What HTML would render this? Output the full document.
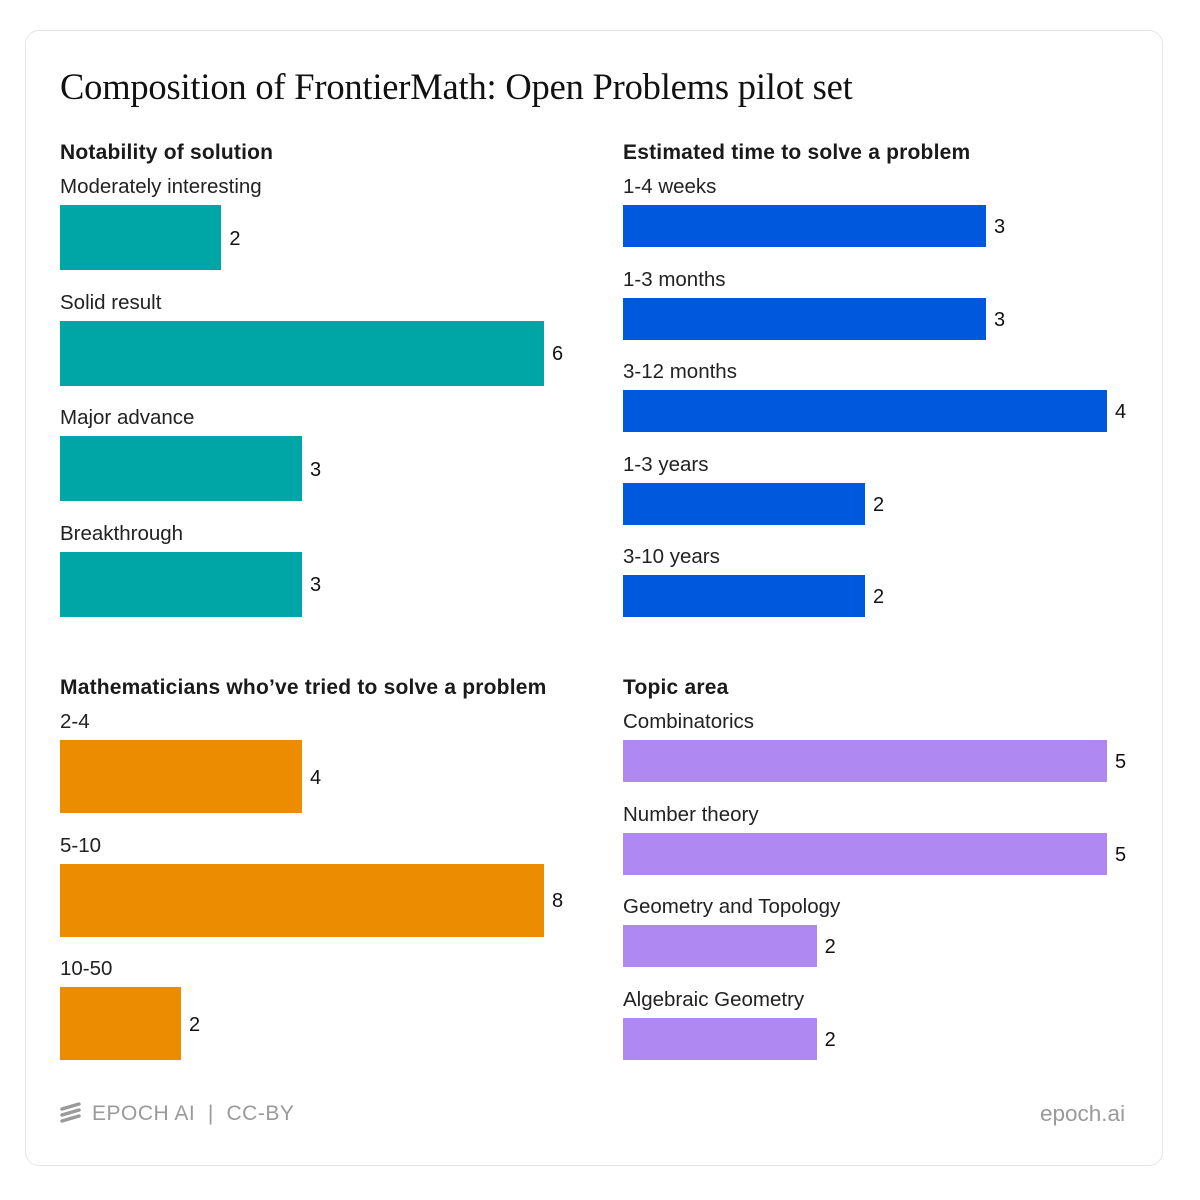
<!DOCTYPE html>
<html><head><meta charset="utf-8">
<style>
body{margin:0;width:1200px;height:1200px;background:#fff;font-family:"Liberation Sans",sans-serif;position:relative;overflow:hidden}
#card{position:absolute;left:25px;top:30px;width:1138px;height:1136px;border:1px solid #e6e6e6;border-radius:14px;box-sizing:border-box}
.t{position:absolute;white-space:nowrap;color:#111}
#title{left:60px;top:65px;font-family:"Liberation Serif",serif;font-size:36.5px;letter-spacing:-0.2px}
.ph{font-size:21px;font-weight:bold;color:#1a1a1a;letter-spacing:0.2px}
.lab{font-size:20.5px;color:#222}
.val{font-size:20px;color:#111}
.bar{position:absolute}
.foot{color:#9a9a9a;font-size:21px}
</style></head><body>
<div id="card"></div>
<div class="t" id="title">Composition of FrontierMath: Open Problems pilot set</div>
<div class="t foot" style="left:92px;top:1102px;letter-spacing:0.5px">EPOCH AI&nbsp;&nbsp;|&nbsp;&nbsp;CC-BY</div>
<svg style="position:absolute;left:59px;top:1102px" width="24" height="22"><g stroke="#9a9a9a" stroke-width="3.5" stroke-linecap="round"><line x1="3" y1="7" x2="20" y2="2"/><line x1="3" y1="13" x2="20" y2="8"/><line x1="3" y1="19" x2="20" y2="14"/></g></svg>
<div class="t foot" style="left:1040px;top:1101px;font-size:22.5px">epoch.ai</div>
<div id="root"></div>
<script>
const notabilityCats=["Moderately interesting","Solid result","Major advance","Breakthrough"];
const notabilityVals=[2,6,3,3];
const timeCats=["1-4 weeks","1-3 months","3-12 months","1-3 years","3-10 years"];
const timeVals=[3,3,4,2,2];
const mathCats=["2-4","5-10","10-50"];
const mathVals=[4,8,2];
const topicCats=["Combinatorics","Number theory","Geometry and Topology","Algebraic Geometry"];
const topicVals=[5,5,2,2];

const root=document.getElementById('root');
function mk(cls,txt,x,y,name){
  const d=document.createElement('div');
  d.className='t '+cls;d.textContent=txt;d.style.left=x+'px';d.style.top=y+'px';
  
  
  root.appendChild(d);return d;
}
function panel(title,pname,cats,vals,x0,titleY,firstBarTop,step,barH,color){
  mk('ph',title,x0,titleY,pname+'-title');
  const maxV=Math.max(...vals);
  const xs=v=>v/maxV*484;
  cats.forEach((c,i)=>{
    const top=firstBarTop+i*step;
    mk('lab',c,x0,top-30,pname+'-label');
    const b=document.createElement('div');
    b.className='bar';b.style.left=x0+'px';b.style.top=top+'px';
    b.style.width=xs(vals[i])+'px';b.style.height=barH+'px';b.style.background=color;
    
    
    root.appendChild(b);
    mk('val',String(vals[i]),x0+xs(vals[i])+8,top+barH/2-10,pname+'-value');
  });
}
panel("Notability of solution","notability",notabilityCats,notabilityVals,60,141,205,115.5,65,"#00a6a6");
panel("Estimated time to solve a problem","time",timeCats,timeVals,623,141,205,92.5,42,"#0058dd");
panel("Mathematicians who\u2019ve tried to solve a problem","mathematicians",mathCats,mathVals,60,676,740,123.5,73,"#ec8c00");
panel("Topic area","topic",topicCats,topicVals,623,676,740,92.5,42,"#b088f2");
</script>
</body></html>
